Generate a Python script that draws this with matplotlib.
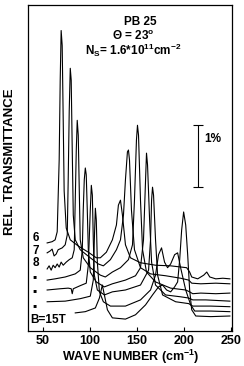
import matplotlib
matplotlib.use("Agg")
import matplotlib.pyplot as plt

plt.rcParams['font.family'] = ['Liberation Sans', 'DejaVu Sans']
plt.rcParams['font.weight'] = 'bold'
plt.rcParams['mathtext.fontset'] = 'custom'
plt.rcParams['mathtext.rm'] = 'Liberation Sans:bold'
plt.rcParams['mathtext.bf'] = 'Liberation Sans:bold'
plt.rcParams['mathtext.it'] = 'Liberation Sans:bold'

# spectra, top (6 T) to bottom (15 T); wave number in cm^-1, rel. transmittance in %
wn_6 = [54.3, 59.6, 62.8, 65.0, 67.1, 68.2, 69.2, 70.3, 71.4, 72.4, 74.6, 78.9, 87.4, 98.1,
        106.6, 110.9, 117.3, 123.7, 128.0, 130.1, 132.3, 134.4, 137.6, 142.9, 153.6, 169.6,
        185.7, 202.7, 205.9, 208.1, 214.5, 220.9, 224.1, 227.3, 233.7, 241.2, 248.7]
tr_6 = [1.42, 1.44, 1.47, 1.60, 2.76, 4.05, 4.85, 4.61, 3.40, 2.26, 1.66, 1.47, 1.37, 1.27,
        1.18, 1.18, 1.27, 1.47, 1.71, 2.03, 2.11, 1.87, 1.39, 1.18, 1.10, 1.06,
        1.05, 1.02, 0.95, 0.87, 0.84, 0.90, 0.95, 0.87, 0.84, 0.85, 0.84]

wn_7 = [54.3, 57.5, 59.6, 61.7, 63.9, 66.0, 70.3, 73.5, 75.7, 76.7, 77.8, 78.9, 79.9, 81.0,
        82.1, 84.2, 89.5, 100.2, 108.8, 114.1, 121.6, 128.0, 132.3, 135.5, 137.6, 139.7,
        140.8, 141.9, 144.0, 147.2, 153.6, 164.3, 180.3, 196.3, 204.9, 208.1, 217.7, 233.7, 248.7]
tr_7 = [1.26, 1.29, 1.32, 1.21, 1.24, 1.31, 1.34, 1.39, 1.55, 2.44, 3.56, 4.24, 4.05, 2.92,
        1.87, 1.47, 1.31, 1.18, 1.08, 1.05, 1.15, 1.31, 1.47, 1.87, 2.44, 2.89,
        2.92, 2.76, 1.95, 1.31, 1.02, 0.92, 0.89, 0.85, 0.82, 0.77, 0.76, 0.77, 0.76]

wn_8 = [54.3, 56.4, 58.6, 60.7, 62.8, 65.0, 67.1, 69.2, 71.4, 74.6, 77.8, 81.0, 83.1, 84.2,
        85.3, 86.3, 87.4, 88.5, 89.5, 92.7, 100.2, 110.9, 116.2, 123.7, 132.3, 140.8, 145.1,
        147.2, 149.3, 150.4, 151.5, 153.6, 155.8, 160.0, 169.6, 185.7, 201.7, 205.9, 209.2,
        217.7, 233.7, 248.7]
tr_8 = [1.00, 1.05, 0.98, 1.06, 1.02, 1.08, 1.03, 1.11, 1.06, 1.11, 1.15, 1.18, 1.31, 2.11,
        2.92, 3.40, 3.16, 2.26, 1.47, 1.18, 1.02, 0.90, 0.87, 0.95, 1.02, 1.15, 1.39,
        2.11, 3.08, 3.32, 3.16, 2.11, 1.31, 0.95, 0.79, 0.69, 0.66, 0.63, 0.60,
        0.61, 0.60, 0.61]

wn_9 = [54.3, 62.8, 73.5, 84.2, 89.5, 91.7, 92.7, 93.8, 94.9, 95.9, 97.0, 98.1, 100.2, 106.6,
        115.2, 123.7, 137.6, 148.3, 153.6, 156.8, 159.0, 160.0, 161.1, 163.3, 165.4, 169.6,
        180.3, 196.3, 204.9, 209.2, 223.0, 248.7]
tr_9 = [0.82, 0.84, 0.87, 0.92, 0.98, 1.31, 1.95, 2.44, 2.63, 2.52, 1.95, 1.31, 0.95, 0.79,
        0.71, 0.76, 0.82, 0.89, 1.02, 1.47, 2.44, 2.87, 2.68, 1.79, 1.11, 0.74,
        0.58, 0.55, 0.53, 0.50, 0.50, 0.48]

wn_10 = [54.3, 68.2, 76.7, 79.9, 81.0, 82.1, 89.5, 95.9, 98.1, 100.2, 101.3, 102.4, 103.4,
         104.5, 107.7, 115.2, 123.7, 137.6, 153.6, 162.2, 164.3, 165.4, 166.4, 167.5, 169.6,
         171.8, 177.1, 191.0, 204.9, 209.2, 228.4, 248.7]
tr_10 = [0.66, 0.68, 0.69, 0.68, 0.60, 0.68, 0.73, 0.77, 1.06, 1.95, 2.35, 2.19, 1.47,
         0.90, 0.66, 0.58, 0.63, 0.66, 0.74, 0.98, 1.47, 2.11, 2.32, 2.19, 1.47,
         0.90, 0.58, 0.47, 0.44, 0.40, 0.40, 0.39]

wn_12 = [54.3, 73.5, 89.5, 100.2, 103.4, 104.5, 105.6, 106.6, 107.7, 109.9, 114.1, 121.6,
         137.6, 153.6, 164.3, 169.6, 172.8, 176.0, 179.2, 182.4, 185.7, 189.9, 193.1, 196.3,
         201.7, 207.0, 211.3, 228.4, 248.7]
tr_12 = [0.47, 0.48, 0.52, 0.56, 0.82, 1.47, 1.98, 1.79, 1.11, 0.63, 0.47, 0.40,
         0.40, 0.50, 0.66, 0.90, 1.23, 1.34, 1.11, 1.02, 1.08, 1.23, 1.26, 1.02,
         0.66, 0.42, 0.32, 0.32, 0.31]

wn_15 = [84.2, 94.9, 105.6, 109.9, 113.0, 115.2, 118.4, 123.7, 137.6, 148.3, 159.0, 166.4,
         172.8, 177.1, 181.4, 185.7, 189.9, 193.1, 195.3, 197.4, 199.5, 201.7, 203.8, 205.9,
         208.1, 212.4, 228.4, 248.7]
tr_15 = [0.29, 0.31, 0.37, 0.53, 0.74, 0.58, 0.34, 0.21, 0.19, 0.26, 0.42, 0.58,
         0.71, 0.74, 0.66, 0.63, 0.71, 0.79, 1.15, 1.63, 1.92, 1.71, 1.23, 0.66,
         0.34, 0.24, 0.23, 0.24]

spectra = [(wn_6, tr_6), (wn_7, tr_7), (wn_8, tr_8), (wn_9, tr_9),
           (wn_10, tr_10), (wn_12, tr_12), (wn_15, tr_15)]

field_labels = ['6', '7', '8', '\u25aa', '\u25aa', '\u25aa', 'B=15T']
label_y = [1.50, 1.29, 1.10, 0.87, 0.65, 0.40, 0.18]
xticks = [50, 100, 150, 200, 250]

fig = plt.figure(figsize=(2.44, 3.66), dpi=100)
ax = fig.add_axes([0.115, 0.096, 0.836, 0.890])

for wn, tr in spectra:
    ax.plot(wn, tr, color='black', lw=0.8)

# 1% scale bar
ax.errorbar([214.5], [2.82], yerr=[0.5], color='black', lw=0.8, capsize=3.6, capthick=0.8)
ax.text(231, 3.10, '1%', fontsize=8.5, fontweight='bold', ha='center', va='center')

for lab, y in zip(field_labels, label_y):
    ax.text(38.5 if lab != 'B=15T' else 36.5, y, lab, fontsize=8.5, fontweight='bold',
            ha='left', va='center')

ax.text(0.55, 0.948, 'PB 25', transform=ax.transAxes, fontsize=8.5, fontweight='bold',
        ha='center', va='center')
ax.text(0.515, 0.905, '\u0398 = 23$^{\\mathrm{o}}$', transform=ax.transAxes, fontsize=8.5,
        fontweight='bold', ha='center', va='center')
ax.text(0.515, 0.860, r'$\mathrm{N_S}$= 1.6*10$^{\mathrm{11}}$cm$^{\mathrm{-2}}$',
        transform=ax.transAxes, fontsize=8.5, fontweight='bold', ha='center', va='center')

ax.set_xlim(34, 251)
ax.set_ylim(0, 5.26)
ax.set_xticks(xticks)
ax.set_xticklabels([str(t) for t in xticks], fontsize=9, fontweight='bold')
ax.set_yticks([])
ax.tick_params(axis='x', direction='in', length=3, width=0.8, pad=3)
for s in ax.spines.values():
    s.set_linewidth(0.9)

fig.text(0.535, 0.025, 'WAVE NUMBER (cm$^{\\mathrm{-1}}$)', fontsize=9, fontweight='bold',
         ha='center', va='center')
fig.text(0.04, 0.557, 'REL. TRANSMITTANCE', rotation=90, fontsize=9.5, fontweight='bold',
         ha='center', va='center')

fig.savefig('out.png', dpi=100)
